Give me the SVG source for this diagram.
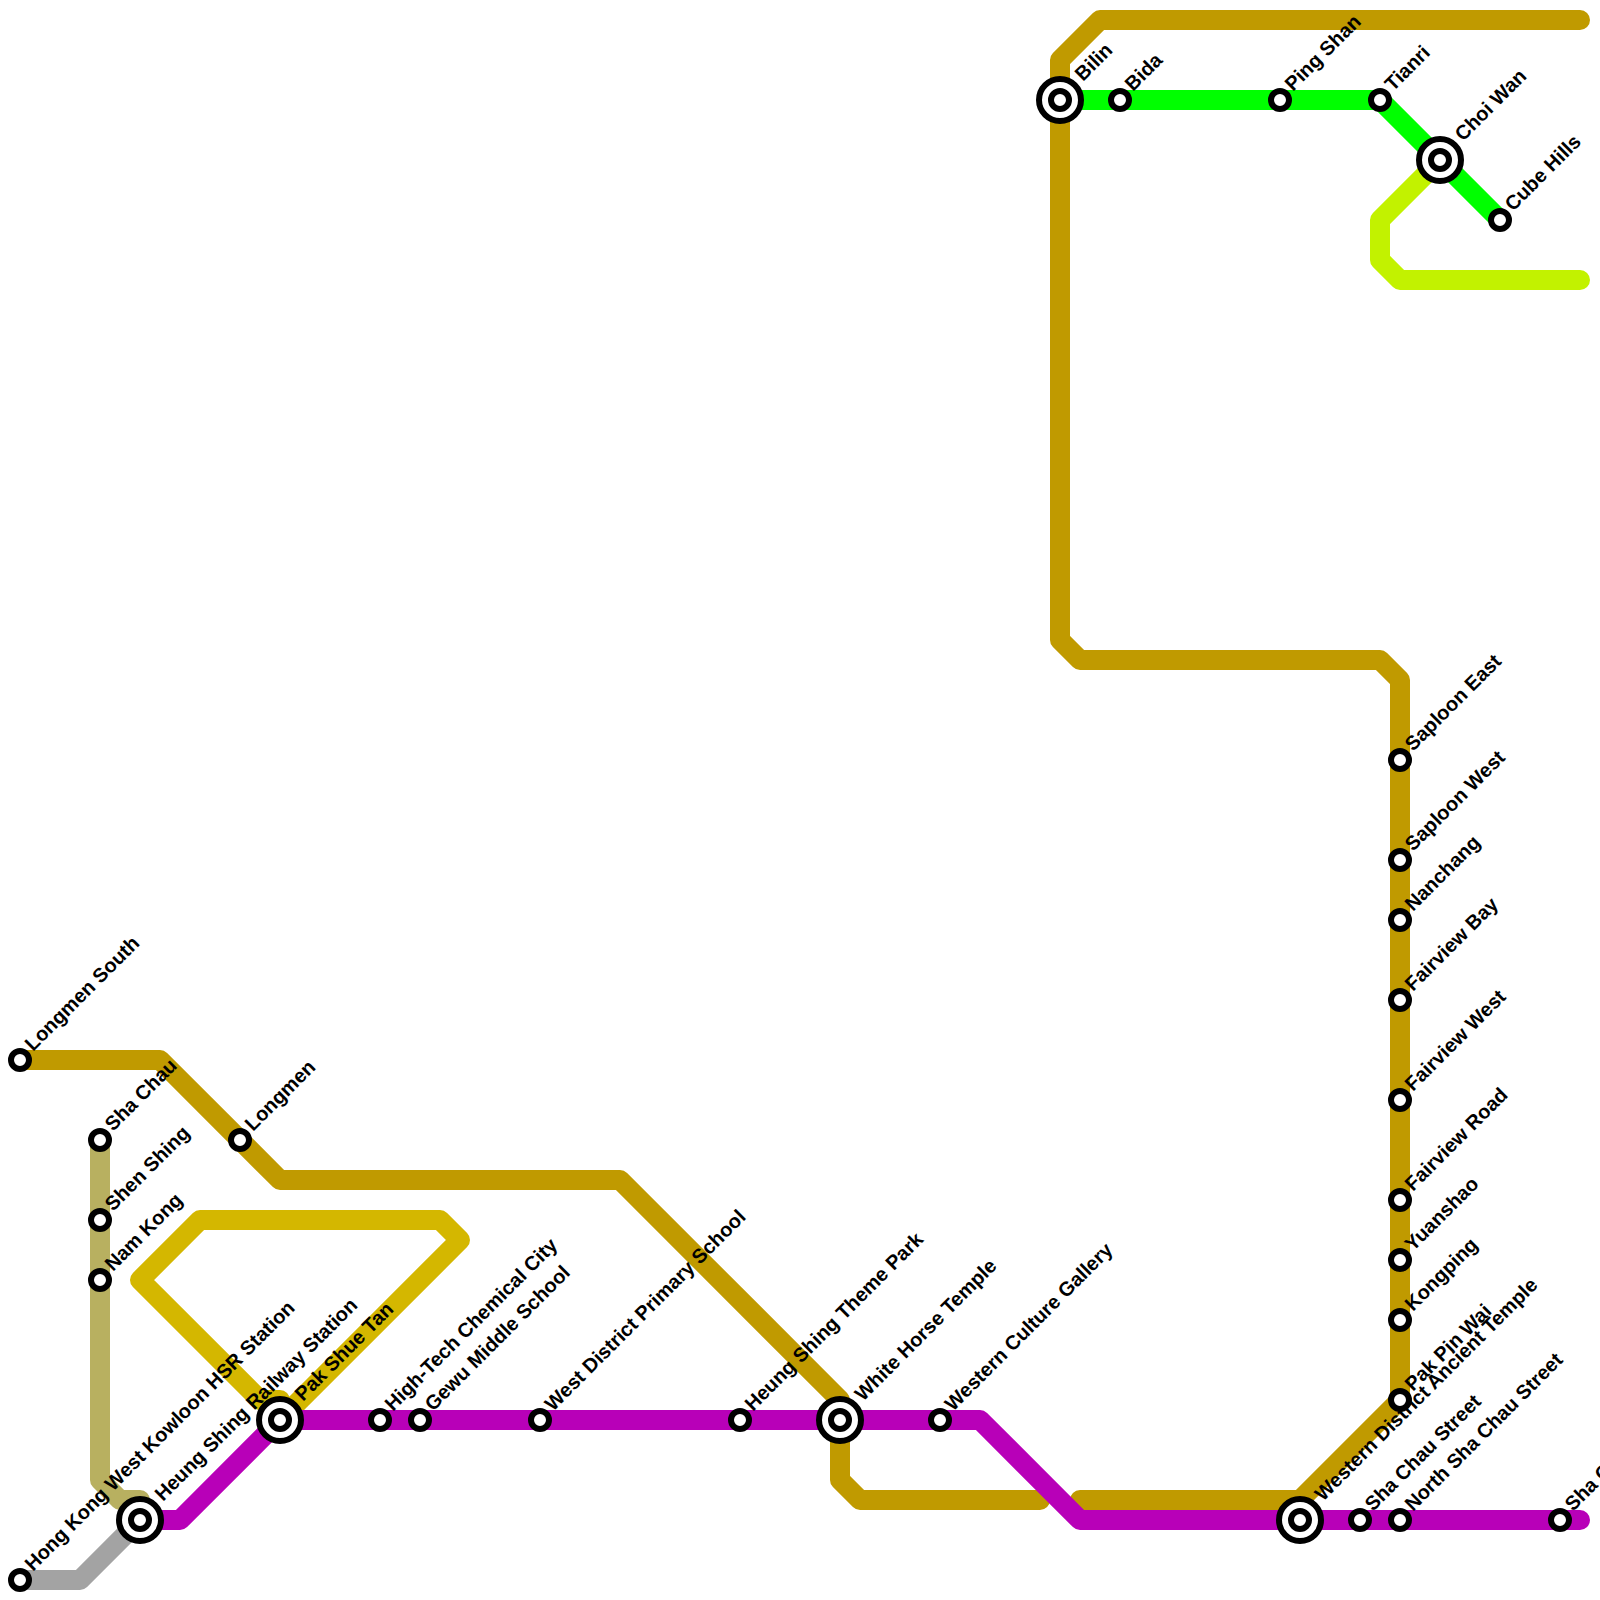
<svg xmlns="http://www.w3.org/2000/svg" width="1600" height="1600" viewBox="0 0 1600 1600">
<style>
.l{fill:none;stroke-width:20;stroke-linecap:round;stroke-linejoin:round}
.s{fill:#fff;stroke:#000;stroke-width:6}
.o{fill:#fff;stroke:#000;stroke-width:6}
text{font-family:"Liberation Sans",Arial,sans-serif;font-weight:700;font-size:20px;fill:#000}
</style>
<defs>
<g id="st"><circle class="s" r="9"/></g>
<g id="ic"><circle class="o" r="21"/><circle class="s" r="9"/></g>
</defs>
<rect width="1600" height="1600" fill="#fff"/>
<g id="connectors">
<path class="l" stroke="#c09a00" d="M20 1060H160L280 1180H620L840 1400V1480L860 1500H1040"/>
<path class="l" stroke="#c09a00" d="M1080 1500H1300L1400 1400V680L1380 660H1080L1060 640V60L1100 20H1580"/>
<path class="l" stroke="#d4b700" d="M280 1420L300 1400L460 1240L440 1220H200L140 1280L260 1400H280Z"/>
<path class="l" stroke="#b8b060" d="M100 1140V1480L120 1500H140V1520"/>
<path class="l" stroke="#a3a3a3" d="M20 1580H80L140 1520"/>
<path class="l" stroke="#c2f200" d="M1440 160L1380 220V260L1400 280H1580"/>
<path class="l" stroke="#00ff00" d="M1060 100H1380L1500 220"/>
<path class="l" stroke="#b800b8" d="M140 1520H180L280 1420H980L1080 1520H1580"/>
</g>
<g id="n1"><use href="#st" x="20" y="1060"/><text transform="translate(33 1052) rotate(-45)">Longmen South</text></g>
<g id="n2"><use href="#st" x="100" y="1140"/><text transform="translate(113 1132) rotate(-45)">Sha Chau</text></g>
<g id="n3"><use href="#st" x="100" y="1220"/><text transform="translate(113 1212) rotate(-45)">Shen Shing</text></g>
<g id="n4"><use href="#st" x="100" y="1280"/><text transform="translate(113 1272) rotate(-45)">Nam Kong</text></g>
<g id="n5"><use href="#st" x="240" y="1140"/><text transform="translate(253 1132) rotate(-45)">Longmen</text></g>
<g id="n6"><use href="#st" x="20" y="1580"/><text transform="translate(33 1572) rotate(-45)">Hong Kong West Kowloon HSR Station</text></g>
<g id="n7"><use href="#ic" x="140" y="1520"/><text transform="translate(163 1502) rotate(-45)">Heung Shing Railway Station</text></g>
<g id="n8"><use href="#ic" x="280" y="1420"/><text transform="translate(303 1402) rotate(-45)">Pak Shue Tan</text></g>
<g id="n9"><use href="#st" x="380" y="1420"/><text transform="translate(393 1412) rotate(-45)">High-Tech Chemical City</text></g>
<g id="n10"><use href="#st" x="420" y="1420"/><text transform="translate(433 1412) rotate(-45)">Gewu Middle School</text></g>
<g id="n11"><use href="#st" x="540" y="1420"/><text transform="translate(553 1412) rotate(-45)">West District Primary School</text></g>
<g id="n12"><use href="#st" x="740" y="1420"/><text transform="translate(753 1412) rotate(-45)">Heung Shing Theme Park</text></g>
<g id="n13"><use href="#ic" x="840" y="1420"/><text transform="translate(863 1402) rotate(-45)">White Horse Temple</text></g>
<g id="n14"><use href="#st" x="940" y="1420"/><text transform="translate(953 1412) rotate(-45)">Western Culture Gallery</text></g>
<g id="n15"><use href="#ic" x="1300" y="1520"/><text transform="translate(1323 1502) rotate(-45)">Western District Ancient Temple</text></g>
<g id="n16"><use href="#st" x="1360" y="1520"/><text transform="translate(1373 1512) rotate(-45)">Sha Chau Street</text></g>
<g id="n17"><use href="#st" x="1400" y="1520"/><text transform="translate(1413 1512) rotate(-45)">North Sha Chau Street</text></g>
<g id="n18"><use href="#st" x="1560" y="1520"/><text transform="translate(1573 1512) rotate(-45)">Sha Chau</text></g>
<g id="n19"><use href="#st" x="1400" y="1400"/><text transform="translate(1413 1392) rotate(-45)">Pak Pin Wai</text></g>
<g id="n20"><use href="#st" x="1400" y="1320"/><text transform="translate(1413 1312) rotate(-45)">Kongping</text></g>
<g id="n21"><use href="#st" x="1400" y="1260"/><text transform="translate(1413 1252) rotate(-45)">Yuanshao</text></g>
<g id="n22"><use href="#st" x="1400" y="1200"/><text transform="translate(1413 1192) rotate(-45)">Fairview Road</text></g>
<g id="n23"><use href="#st" x="1400" y="1100"/><text transform="translate(1413 1092) rotate(-45)">Fairview West</text></g>
<g id="n24"><use href="#st" x="1400" y="1000"/><text transform="translate(1413 992) rotate(-45)">Fairview Bay</text></g>
<g id="n25"><use href="#st" x="1400" y="920"/><text transform="translate(1413 912) rotate(-45)">Nanchang</text></g>
<g id="n26"><use href="#st" x="1400" y="860"/><text transform="translate(1413 852) rotate(-45)">Saploon West</text></g>
<g id="n27"><use href="#st" x="1400" y="760"/><text transform="translate(1413 752) rotate(-45)">Saploon East</text></g>
<g id="n28"><use href="#ic" x="1060" y="100"/><text transform="translate(1083 82) rotate(-45)">Bilin</text></g>
<g id="n29"><use href="#st" x="1120" y="100"/><text transform="translate(1133 92) rotate(-45)">Bida</text></g>
<g id="n30"><use href="#st" x="1280" y="100"/><text transform="translate(1293 92) rotate(-45)">Ping Shan</text></g>
<g id="n31"><use href="#st" x="1380" y="100"/><text transform="translate(1393 92) rotate(-45)">Tianri</text></g>
<g id="n32"><use href="#ic" x="1440" y="160"/><text transform="translate(1463 142) rotate(-45)">Choi Wan</text></g>
<g id="n33"><use href="#st" x="1500" y="220"/><text transform="translate(1513 212) rotate(-45)">Cube Hills</text></g>
</svg>
